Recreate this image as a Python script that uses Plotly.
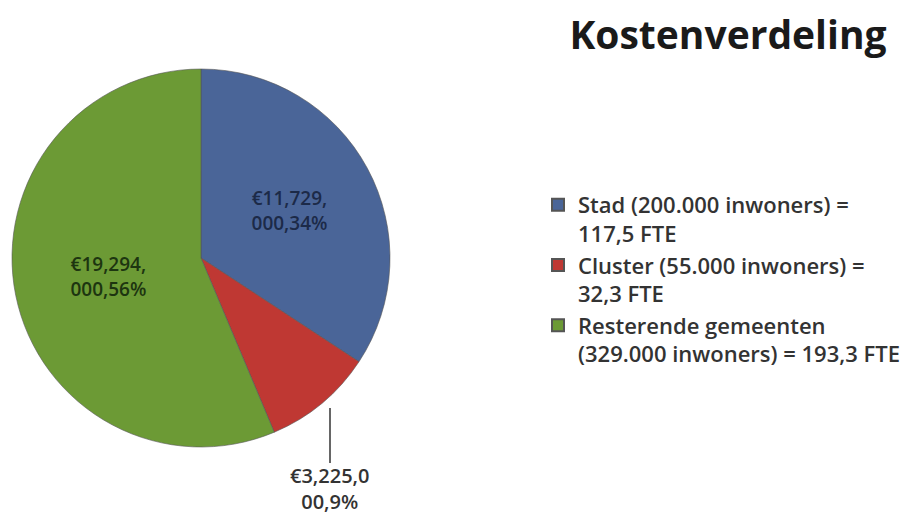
import plotly.graph_objects as go

# gegevens
categorieen = ["Stad (200.000 inwoners) =<br>117,5 FTE",
               "Cluster (55.000 inwoners) =<br>32,3 FTE",
               "Resterende gemeenten<br>(329.000 inwoners) = 193,3 FTE"]
kosten = [11729000, 3225000, 19294000]
labels_tekst = ["€11,729,<br>000,34%", "€3,225,0<br>00,9%", "€19,294,<br>000,56%"]
kleuren = ["#4a6598", "#bf3833", "#6c9a35"]
tekst_kleuren = ["#1c2a48", "#333333", "#1d3510"]

W, H = 914, 517
cx, cy, r = 193, 250, 189

fig = go.Figure(go.Pie(
    labels=categorieen, values=kosten, text=labels_tekst,
    texttemplate=["%{text}", "", "%{text}"],
    textposition=["inside", "none", "inside"],
    insidetextfont=dict(family="Open Sans", size=19, color=tekst_kleuren, weight=600),
    insidetextorientation="horizontal",
    marker=dict(colors=kleuren, line=dict(color="#555555", width=0.6)),
    sort=False, direction="clockwise", rotation=0,
    domain=dict(x=[(cx - r) / W, (cx + r) / W], y=[(H - cy - r) / H, (H - cy + r) / H]),
    hoverinfo="label+value+percent",
))

# label van de kleine schijf met verbindingslijn
fig.add_shape(type="line", xref="paper", yref="paper",
              x0=322 / W, x1=322 / W, y0=1 - 400 / H, y1=1 - 455 / H,
              line=dict(color="#333333", width=1.5))
fig.add_annotation(text=labels_tekst[1], xref="paper", yref="paper",
                   x=322 / W, y=1 - 452 / H, xanchor="center", yanchor="top",
                   showarrow=False, align="center",
                   font=dict(family="Open Sans", size=20, color="#333333", weight=600))

fig.update_layout(
    width=W, height=H, margin=dict(l=0, r=0, t=0, b=0),
    paper_bgcolor="white", plot_bgcolor="white",
    title=dict(text="<b>Kostenverdeling</b>", x=720 / W, xanchor="center",
               y=1 - 27 / H, yanchor="middle",
               font=dict(family="Open Sans", size=39, color="#1a1a1a")),
    legend=dict(x=530 / W, y=1 - 176 / H, xanchor="left", yanchor="top",
                font=dict(family="Open Sans", size=22, color="#333333", weight=600),
                itemsizing="constant", valign="top", tracegroupgap=8),
    showlegend=True,
)

fig.write_html("out.html")
